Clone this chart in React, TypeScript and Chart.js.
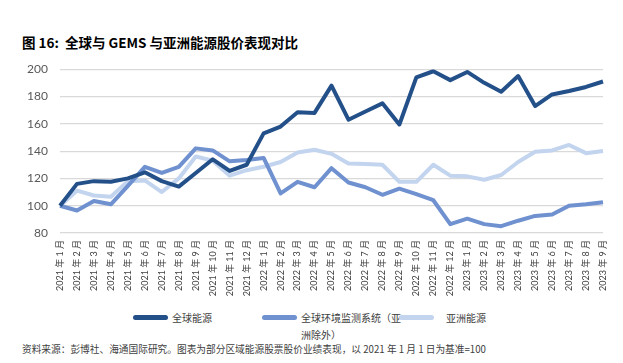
import React, { useEffect, useRef } from "react";
import { Chart, registerables } from "chart.js";

Chart.register(...registerables);

const months: string[] = [
  "2021 年 1 月", "2021 年 2 月", "2021 年 3 月", "2021 年 4 月", "2021 年 5 月", "2021 年 6 月",
  "2021 年 7 月", "2021 年 8 月", "2021 年 9 月", "2021 年 10 月", "2021 年 11 月", "2021 年 12 月",
  "2022 年 1 月", "2022 年 2 月", "2022 年 3 月", "2022 年 4 月", "2022 年 5 月", "2022 年 6 月",
  "2022 年 7 月", "2022 年 8 月", "2022 年 9 月", "2022 年 10 月", "2022 年 11 月", "2022 年 12 月",
  "2023 年 1 月", "2023 年 2 月", "2023 年 3 月", "2023 年 4 月", "2023 年 5 月", "2023 年 6 月",
  "2023 年 7 月", "2023 年 8 月", "2023 年 9 月",
];

const globalEnergy: number[] = [
  100, 116, 118, 117.5, 120, 124.5, 118, 114, 124, 134, 125.5, 130,
  153, 158, 168.5, 168, 188, 163, 169, 175, 159.5, 194, 198.5, 192,
  198, 190, 183.5, 195, 173, 181.5, 184, 187, 191,
];

const globalEnvMonitoring: number[] = [
  100, 96.5, 103.5, 101, 114.5, 128.5, 124, 128.5, 142, 140.5, 132.5, 133.5,
  135, 109, 117.5, 113.5, 127.5, 117, 113.5, 108, 112.5, 108.5, 104, 86.5,
  90.5, 86.5, 85, 89, 92.5, 93.5, 100, 101, 102.5,
];

const asiaEnergy: number[] = [
  100, 111, 107.5, 106.5, 118, 118.5, 110, 120, 136, 133, 122, 126,
  128.5, 132, 139, 141, 138, 131, 130.5, 130, 117.5, 117.5, 130, 122,
  121.5, 119, 122.5, 132, 139.5, 140.5, 144.5, 138.5, 140,
];

const yTicks: number[] = [80, 100, 120, 140, 160, 180, 200];

const seriesNames: string[] = ["全球能源", "全球环境监测系统（亚洲除外）", "亚洲能源"];
const seriesColors: string[] = ["#24508A", "#6F91CF", "#C3D4EE"];

const FONT = "Lato, 'Noto Sans CJK SC', sans-serif";
const CJK = "'Noto Sans CJK SC', 'DejaVu Sans', sans-serif";

export default function App() {
  const canvasRef = useRef<HTMLCanvasElement | null>(null);

  useEffect(() => {
    document.body.style.margin = "0";
    const canvas = canvasRef.current;
    if (!canvas) return;
    const chart = new Chart(canvas, {
      type: "line",
      data: {
        labels: months,
        datasets: [
          { label: seriesNames[0], data: globalEnergy, borderColor: seriesColors[0], backgroundColor: seriesColors[0], borderWidth: 4, pointRadius: 0, tension: 0, borderJoinStyle: "round" as const, order: 1 },
          { label: seriesNames[1], data: globalEnvMonitoring, borderColor: seriesColors[1], backgroundColor: seriesColors[1], borderWidth: 4, pointRadius: 0, tension: 0, borderJoinStyle: "round" as const, order: 2 },
          { label: seriesNames[2], data: asiaEnergy, borderColor: seriesColors[2], backgroundColor: seriesColors[2], borderWidth: 4, pointRadius: 0, tension: 0, borderJoinStyle: "round" as const, order: 3 },
        ],
      },
      options: {
        animation: false,
        responsive: false,
        maintainAspectRatio: false,
        layout: { padding: { left: 0, right: 20, top: 11, bottom: 0 } },
        plugins: { legend: { display: false }, tooltip: { enabled: false }, title: { display: false } },
        scales: {
          x: {
            offset: false,
            grid: { display: false, drawTicks: false },
            border: { display: false },
            ticks: {
              autoSkip: false,
              minRotation: 90,
              maxRotation: 90,
              padding: 7,
              color: "#404040",
              font: { family: FONT, size: 9 },
            },
            afterFit: (scale: any) => { scale.height = 67; },
          },
          y: {
            min: 80,
            max: 200,
            afterBuildTicks: (scale: any) => { scale.ticks = yTicks.map((v) => ({ value: v })); },
            grid: { color: "#D9D9D9", lineWidth: 1.2, drawTicks: false },
            border: { display: false },
            ticks: {
              padding: 12,
              color: "#595959",
              font: { family: FONT, size: 12 },
            },
            afterFit: (scale: any) => { scale.width = 60; },
          },
        },
      },
    });
    return () => chart.destroy();
  }, []);

  const legendItem = (i: number, left: number, textLeft: number, lines: string[]) => (
    <div key={i}>
      <div style={{ position: "absolute", left, top: 315, width: 35, height: 5, borderRadius: 3, background: seriesColors[i] }} />
      <div style={{ position: "absolute", left: textLeft, top: 309, fontFamily: CJK, fontSize: 10, lineHeight: "17px", color: "#404040", whiteSpace: "nowrap" }}>
        {lines.map((l, k) => (<div key={k}>{l}</div>))}
      </div>
    </div>
  );

  return (
    <div style={{ position: "relative", width: 623, height: 363, background: "#fff", overflow: "hidden" }}>
      <div style={{ position: "absolute", left: 22, top: 33, fontFamily: CJK, fontWeight: 700, fontSize: 13.5, color: "#000", whiteSpace: "nowrap", lineHeight: "18px" }}>
        图 16:&nbsp;&nbsp;全球与 GEMS 与亚洲能源股价表现对比
      </div>
      <canvas ref={canvasRef} width={623} height={250} style={{ position: "absolute", left: 0, top: 50, width: 623, height: 250 }} />
      {legendItem(0, 133, 172, ["全球能源"])}
      {legendItem(1, 262, 301, ["全球环境监测系统（亚", "洲除外）"])}
      {legendItem(2, 399, 446, ["亚洲能源"])}
      <div style={{ position: "absolute", left: 22, top: 342, fontFamily: CJK, fontSize: 9.7, color: "#404040", whiteSpace: "nowrap", lineHeight: "14px" }}>
        资料来源：彭博社、海通国际研究。图表为部分区域能源股票股价业绩表现，以 2021 年 1 月 1 日为基准=100
      </div>
    </div>
  );
}
